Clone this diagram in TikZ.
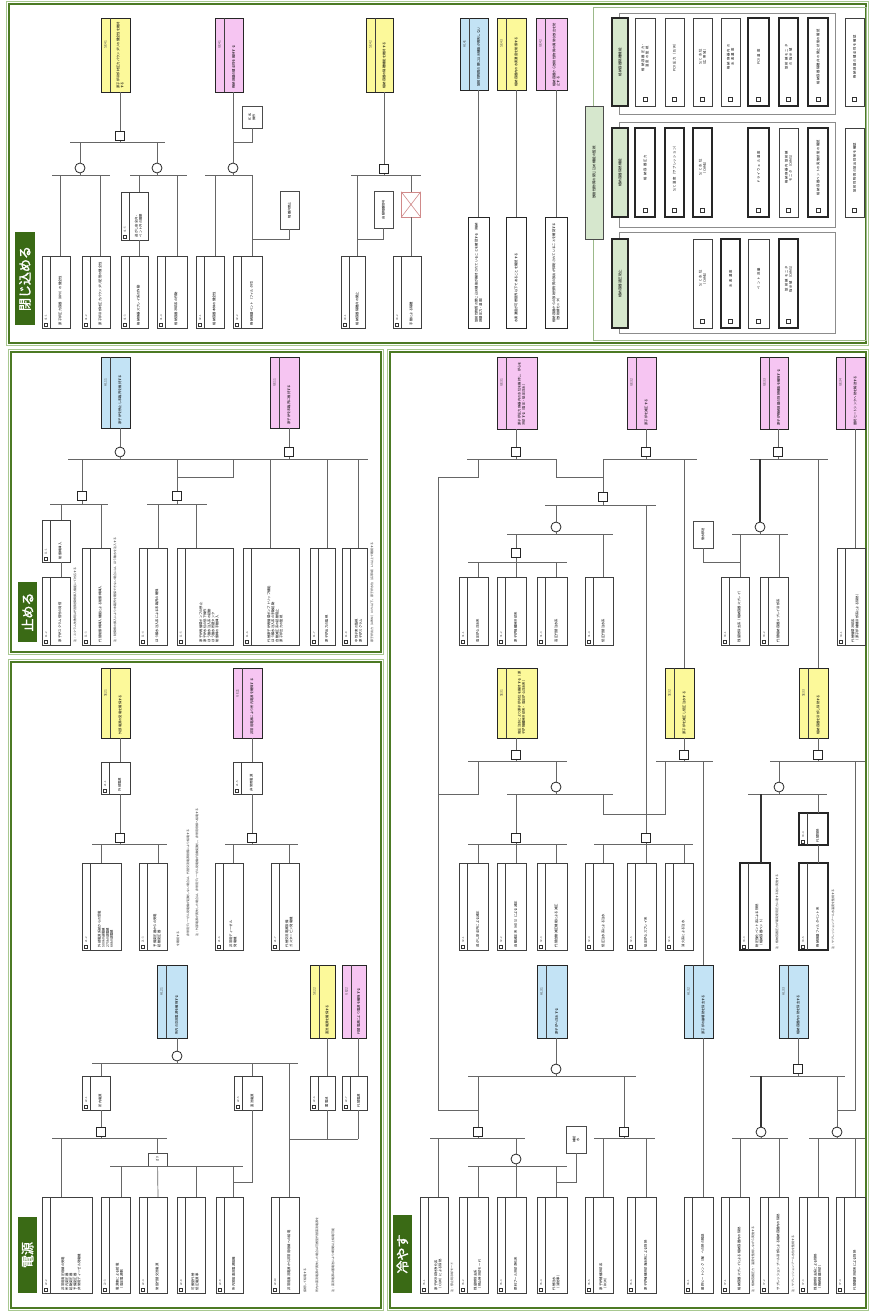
\documentclass[tikz,border=0pt]{standalone}
\usepackage{fontspec}
\setmainfont{Noto Sans CJK JP}
\newfontfamily\jpb[FakeBold=1.6]{Noto Sans CJK JP}
\XeTeXlinebreaklocale "ja"
\XeTeXlinebreakskip=0pt plus 0.3pt
\definecolor{yel}{HTML}{FCF99A}
\definecolor{pnk}{HTML}{F6C5F2}
\definecolor{blu}{HTML}{C3E3F5}
\definecolor{lgf}{HTML}{D6E7CD}
\definecolor{dkg}{HTML}{4C7A24}
\definecolor{labg}{HTML}{3A6A15}
\definecolor{lgl}{HTML}{A8C890}
\definecolor{ofrc}{HTML}{9CB98A}
\definecolor{xred}{HTML}{D08A8A}
\tikzset{
 lbox/.style={rectangle,draw=black!75,line width=0.55pt,inner sep=0pt,outer sep=0pt,fill=white},
 thk/.style={line width=1.1pt,draw=black!85},
 tbox/.style={rectangle,draw=black!85,line width=0.9pt,inner sep=0pt,outer sep=0pt},
 sline/.style={draw=black!75,line width=0.5pt},
 chk/.style={rectangle,draw=black!80,line width=0.4pt,minimum size=3.2pt,inner sep=0pt,fill=white},
 idt/.style={rotate=90,font=\fontsize{2.8}{3.2}\selectfont,inner sep=0pt,text=black!70},
 mtxt/.style={rotate=90,font=\fontsize{3.3}{4.1}\selectfont,inner sep=0pt,align=left},
 ln/.style={draw=black!60,line width=0.7pt},
 tln/.style={draw=black!80,line width=1.2pt},
 gor/.style={circle,draw=black!85,line width=0.8pt,minimum size=10pt,inner sep=0pt,fill=white},
 gand/.style={rectangle,draw=black!85,line width=0.8pt,minimum size=9.5pt,inner sep=0pt,fill=white},
 note/.style={rotate=90,anchor=west,font=\fontsize{3}{3.6}\selectfont,inner sep=0pt,text=black!80},
 sbox/.style={rectangle,rotate=90,draw=black!70,line width=0.5pt,fill=white,inner sep=0.5pt,align=center,font=\fontsize{3.2}{3.9}\selectfont},
 xbox/.style={rectangle,draw=xred,line width=0.6pt,fill=white,inner sep=0pt},
 mbox/.style={rectangle,rotate=90,draw=black!85,line width=1pt,fill=white,inner sep=0pt,align=left,font=\fontsize{3.3}{4.1}\selectfont},
 cbox/.style={rectangle,rotate=90,fill=lgf,draw=black!70,line width=0.8pt,inner sep=0pt,font=\fontsize{3.5}{4}\selectfont},
 hbox/.style={rectangle,rotate=90,fill=lgf,draw=black!85,line width=1.1pt,inner sep=0pt,font=\fontsize{3.5}{4}\selectfont},
 gfr/.style={draw=black!45,line width=0.9pt},
 ofr/.style={draw=ofrc,line width=0.9pt},
 lab/.style={rectangle,rotate=90,fill=labg,text=white,inner sep=0pt,font=\jpb\fontsize{13}{13}\selectfont},
}
\newcommand\topbox[9]{%
 \pgfmathsetmacro\rsW{#4-#2}%
 \pgfmathsetmacro\rsH{#5-#3}%
 \pgfmathsetmacro\rsT{#5-#3-7}%
 \node[tbox,fill=#7,minimum width=\rsW pt,minimum height=\rsH pt,anchor=north west] (#1) at (#2,#3) {};%
 \draw[sline] ({#2+9},#3) -- ({#2+9},#5);%
 \coordinate (#1-t) at (#6,#3);%
 \coordinate (#1-b) at (#6,#5);%
 \node[idt,font=\fontsize{3.3}{3.6}\selectfont] at ({#2+4.5},{#3+0.36*(#5-#3)}) {#8};%
 \node[mtxt,text width=\rsT pt] at ({(#2+9+#4)/2},{(#3+#5)/2}) {#9};%
}
\newcommand\leafbox[9]{%
 \pgfmathsetmacro\rsW{#4-#2}%
 \pgfmathsetmacro\rsH{#5-#3}%
 \pgfmathsetmacro\rsT{#5-#3-6}%
 \node[lbox,#7,minimum width=\rsW pt,minimum height=\rsH pt,anchor=north west] (#1) at (#2,#3) {};%
 \draw[sline] ({#2+8},#3) -- ({#2+8},#5);%
 \coordinate (#1-t) at (#6,#3);%
 \coordinate (#1-b) at (#6,#5);%
 \node[chk] at ({#2+4},{#5-3.5}) {};%
 \node[idt,anchor=west] at ({#2+4},{#5-7}) {#8};%
 \node[mtxt,text width=\rsT pt] at ({(#2+8+#4)/2},{(#3+#5)/2}) {#9};%
}
\newcommand\itembox[7]{%
 \pgfmathsetmacro\rsW{#4-#2}%
 \pgfmathsetmacro\rsH{#5-#3}%
 \pgfmathsetmacro\rsT{#5-#3-16}%
 \node[lbox,#6,minimum width=\rsW pt,minimum height=\rsH pt,anchor=north west] (#1) at (#2,#3) {};%
 \node[chk,minimum size=4pt] at ({(#2+#4)/2},{#5-7}) {};%
 \node[mtxt,align=center,text width=\rsT pt] at ({(#2+#4)/2},{(#3+#5)/2-5}) {#7};%
}
\newcommand\dropto[2]{\draw[ln] (#1-t |- 0,#2) -- (#1-t);}
\newcommand\gateup[2]{\draw[ln] (#1 |- 0,#2) -- (#1);}
\newcommand\gatedn[2]{\draw[ln] (#1) -- (#1 |- 0,#2);}
\begin{document}
\begin{tikzpicture}[x=1pt,y=-1pt]
\useasboundingbox (0,0) rectangle (870,1312);
\fill[white] (0,0) rectangle (870,1312);
% ---------- panels
\foreach \a/\b/\c/\d in {9/4/866/343, 11/352/381/652, 11/662/381/1308, 390/352/866/1308}{
 \draw[lgl,line width=0.8pt] (\a-2.4,\b-2.4) rectangle (\c+2.4,\d+2.4);
 \draw[dkg,line width=2.4pt] (\a,\b) rectangle (\c,\d);
}
\node[lab,minimum width=93pt,minimum height=20pt] (lab4) at (25,278.5) {閉じ込める};
\node[lab,minimum width=60pt,minimum height=19pt] (lab1) at (27.5,612) {止める};
\node[lab,minimum width=76pt,minimum height=19pt] (lab2) at (27.5,1255) {電源};
\node[lab,minimum width=78pt,minimum height=19pt] (lab3) at (402.5,1254) {冷やす};

% ================= 閉じ込める =================
\topbox{se41}{101}{18}{130}{92}{120}{yel}{SE41}{原子炉冷却材圧力バウンダリの健全性を維持する}
\node[gand] (a41) at (120,136) {};
\draw[ln] (se41-b) -- (a41);
\gatedn{a41}{142}
\draw[ln] (70,142) -- (165,142);
\node[gor] (o41a) at (80,168) {};
\node[gor] (o41b) at (157,168) {};
\gateup{o41a}{142} \gateup{o41b}{142}
\gatedn{o41a}{175} \gatedn{o41b}{175}
\draw[ln] (52,175) -- (110,175);
\draw[ln] (130,175) -- (187,175);
\leafbox{l411}{42}{256}{70}{328}{60}{}{41-1}{原子炉圧力容器（RPV）の健全性}
\leafbox{l412}{82}{256}{110}{328}{100}{}{41-2}{原子炉冷却材圧力バウンダリ配管の健全性}
\leafbox{l413}{121}{256}{148}{328}{139}{}{41-3}{格納容器スプレイ系の作動}
\leafbox{l414}{157}{256}{187}{328}{177}{}{41-4}{格納容器冷却系の作動}
\leafbox{i41}{121}{192}{148}{240}{139}{}{41-5}{逃がし安全弁・\\ベント弁の開閉}
\dropto{l411}{175} \dropto{l412}{175} \dropto{i41}{175} \dropto{l414}{175}
\draw[ln] (i41-b) -- (l413-t);

\topbox{ge41}{215}{18}{243}{92}{233}{pnk}{GE41}{格納容器の健全性を維持する}
\node[sbox,minimum width=22pt,minimum height=20pt] (s41) at (252,117) {FCVS\\操作};
\node[gor] (o41c) at (233,168) {};
\draw[ln] (ge41-b) -- (o41c);
\draw[ln] (s41) -- (s41 |- 0,142) -- (233,142);
\gatedn{o41c}{175}
\draw[ln] (205,175) -- (252,175);
\leafbox{l415}{196}{256}{224}{328}{215}{}{42-1}{格納容器本体の健全性}
\leafbox{l416}{233}{256}{262}{328}{252}{}{42-2}{格納容器ベント（フィルタ付）}
\dropto{l415}{175} \dropto{l416}{175}
\node[sbox,minimum width=38pt,minimum height=19pt] (h41) at (289.5,210) {隔離弁閉止};
\draw[ln] (h41) -- (h41 |- 0,239) -- (252,239);

\topbox{se42}{366}{18}{393}{92}{384}{yel}{SE42}{格納容器の隔離機能を維持する}
\node[gand] (a42) at (384,169) {};
\draw[ln] (se42-b) -- (a42);
\gatedn{a42}{175}
\draw[ln] (351,175) -- (421,175);
\leafbox{l421}{341}{256}{365}{328}{357}{}{43-1}{格納容器隔離弁の閉止}
\leafbox{l422}{393}{256}{421}{328}{411}{}{43-2}{手動による隔離}
\node[sbox,minimum width=37pt,minimum height=19pt] (s42) at (383.5,209.5) {自動隔離信号};
\draw[ln] (s42) -- (s42 |- 0,239) -- (357,239);
\dropto{l421}{175}
\node[xbox,minimum width=19pt,minimum height=25pt] (x42) at (411,204.5) {};
\draw[xred,line width=0.6pt] (x42.north west) -- (x42.south east) (x42.north east) -- (x42.south west);
\draw[ln] (411,175) -- (x42.north);
\draw[ln] (x42.south) -- (l422-t);

\topbox{al41}{460}{18}{488}{90}{478}{blu}{AL41}{放射性物質の閉じ込め機能が喪失しない}
\topbox{se43}{497}{18}{526}{90}{516}{yel}{SE43}{格納容器内の水素濃度を制御する}
\topbox{ge42}{536}{18}{567}{90}{556}{pnk}{GE42}{格納容器から放射性物質の異常な放出を防止する}
\node[mbox,minimum width=111pt,minimum height=21pt,text width=100pt] (m41) at (478.5,272.5) {放射性物質の閉じ込め機能が維持されていることを確認する（格納容器圧力・温度）};
\node[mbox,minimum width=111pt,minimum height=20pt,text width=100pt] (m42) at (516,272.5) {水素濃度が可燃限界以下であることを確認する};
\node[mbox,minimum width=111pt,minimum height=22pt,text width=100pt] (m43) at (556,272.5) {格納容器からの放射性物質の放出が抑制されていることを確認する（放射線モニタ）};
\draw[ln] (al41-b) -- (al41-b |- 0,217);
\draw[ln] (se43-b) -- (se43-b |- 0,217);
\draw[ln] (ge42-b) -- (ge42-b |- 0,217);

\draw[ofr] (593,7) rectangle (866,340);
\node[cbox,minimum width=133pt,minimum height=18pt] (cb) at (594,172.5) {放射性物質の閉じ込め機能の監視};
\draw[gfr] (619,13) rectangle (835,114);
\draw[gfr] (619,122) rectangle (835,227);
\draw[gfr] (619,232) rectangle (835,333);
\node[hbox,minimum width=88pt,minimum height=16pt] (hA) at (620,62) {格納容器隔離機能};
\node[hbox,minimum width=89pt,minimum height=16pt] (hB) at (620,172.5) {格納容器除熱機能};
\node[hbox,minimum width=89pt,minimum height=16pt] (hC) at (620,283.5) {格納容器過圧防止};
\itembox{ia1}{635}{18}{655}{106}{}{格納容器圧力・\\温度の監視}
\itembox{ia2}{665}{18}{684}{106}{}{PCV圧力（D/W）}
\itembox{ia3}{693}{18}{712}{106}{}{S/C水位\\（広帯域）}
\itembox{ia4}{721}{18}{740}{106}{}{格納容器内の\\水素濃度}
\itembox{ia5}{748}{18}{769}{106}{thk}{PCV温度}
\itembox{ia6}{779}{18}{798}{106}{thk}{放射線モニタ\\の指示値}
\itembox{ia7}{808}{18}{828}{106}{thk}{格納容器隔離弁の閉止状態の確認}
\itembox{ia8}{845}{18}{864}{106}{}{格納容器の健全性を確認}
\itembox{ib1}{635}{128}{655}{217}{thk}{格納容器圧力}
\itembox{ib2}{665}{128}{684}{217}{thk}{S/C温度（サプレッション）}
\itembox{ib3}{693}{128}{712}{217}{thk}{S/C水位\\（CAMS）}
\itembox{ib5}{748}{128}{769}{217}{thk}{ドライウェル温度}
\itembox{ib6}{779}{128}{798}{217}{}{格納容器内放射線\\モニタ（CAMS）}
\itembox{ib7}{808}{128}{828}{217}{thk}{格納容器ベントの実施状態の確認}
\itembox{ib8}{845}{128}{864}{217}{}{放射性物質の放出抑制を確認}
\itembox{ic3}{693}{239}{712}{328}{}{S/C水位\\（CAMS）}
\itembox{ic4}{721}{239}{740}{328}{thk}{水素濃度}
\itembox{ic5}{748}{239}{769}{328}{}{ベント流量}
\itembox{ic6}{779}{239}{798}{328}{thk}{放射線モニタ\\指示値（CAMS）}

% ================= 止める =================
\topbox{al11}{101}{357}{130}{428}{120}{blu}{AL11}{原子炉を停止し未臨界を維持する}
\node[gor] (o11) at (120,452) {};
\draw[ln] (al11-b) -- (o11);
\gatedn{o11}{459}
\topbox{ge11}{270}{357}{299}{428}{289}{pnk}{GE11}{原子炉を未臨界に維持する}
\node[gand] (a11) at (289,452) {};
\draw[ln] (ge11-b) -- (a11);
\gatedn{a11}{459}
\draw[ln] (68,459) -- (368,459);
\node[gand] (a11a) at (82,496) {};
\node[gand] (a11b) at (177,496) {};
\gateup{a11a}{459} \gateup{a11b}{459}
\draw[ln] (233,459) -- (233,477) -- (177,477);
\gatedn{a11a}{504} \draw[ln] (50,504) -- (108,504);
\gatedn{a11b}{504} \draw[ln] (147,504) -- (207,504);
\leafbox{i11}{42}{520}{70}{562}{61}{}{11-1}{制御棒挿入}
\leafbox{l111}{42}{577}{70}{645}{61}{}{11-2}{原子炉スクラム信号の発信}
\dropto{i11}{504}
\draw[ln] (i11-b) -- (l111-t);
\leafbox{l112}{82}{548}{110}{645}{101}{}{11-3}{代替制御棒挿入機能による制御棒挿入}
\dropto{l112}{504}
\leafbox{l113}{139}{548}{167}{645}{158}{}{11-4}{ほう酸水注入系による未臨界の確保}
\leafbox{l114}{177}{548}{233}{645}{196}{}{11-5}{原子炉再循環ポンプの停止\\原子炉水位の低下操作\\ほう酸水注入系の起動\\ほう酸水貯蔵タンク\\制御棒の手動挿入}
\dropto{l113}{504} \dropto{l114}{504}
\leafbox{l115}{243}{548}{299}{645}{270}{}{11-6}{代替原子炉再循環ポンプトリップ機能\\ほう酸水注入系の手動起動\\自動減圧系の起動阻止\\原子炉出力の監視}
\leafbox{l116}{310}{548}{335}{645}{327}{}{11-7}{原子炉出力の監視}
\leafbox{l117}{342}{548}{367}{645}{358}{}{11-8}{中性子束の監視\\原子炉スクラム}
\dropto{l115}{459} \dropto{l116}{459} \dropto{l117}{459}
\node[note] (n11a) at (75,643) {注：スクラム失敗時は代替制御棒挿入機能にて対応する};
\node[note] (n11b) at (115,643) {注：制御棒の挿入により未臨界を確保できない場合には、ほう酸水を注入する};
\node[note] (n11c) at (372,643) {原子炉出力（APRM）0.3\%以下、原子炉水位（広帯域）L-3以上で確認する};

% ================= 電源 =================
\topbox{se21}{101}{668}{130}{738}{120}{yel}{SE21}{外部電源の受電を確保する}
\leafbox{e21}{101}{762}{130}{794}{120}{}{21-1}{外部電源}
\draw[ln] (se21-b) -- (e21-t);
\node[gand] (a21) at (120,838) {};
\draw[ln] (e21-b) -- (a21);
\gatedn{a21}{844}
\draw[ln] (92,844) -- (167,844);
\leafbox{l211}{82}{863}{121}{950}{101}{}{21-2}{外部電源系統からの受電\\500kV送電線\\275kV送電線\\66kV送電線}
\leafbox{l212}{139}{863}{167}{950}{158}{}{21-3}{予備変圧器からの受電\\起動変圧器}
\dropto{l211}{844} \dropto{l212}{844}
\topbox{ge21}{233}{668}{262}{738}{252}{pnk}{GE21}{非常用電源により所内電源を確保する}
\leafbox{e22}{233}{762}{262}{794}{252}{}{21-5}{非常用電源}
\draw[ln] (ge21-b) -- (e22-t);
\node[gand] (a22) at (252,838) {};
\draw[ln] (e22-b) -- (a22);
\gatedn{a22}{844}
\draw[ln] (225,844) -- (298,844);
\leafbox{l213}{215}{863}{243}{950}{233}{}{21-6}{非常用ディーゼル\\発電機}
\leafbox{l214}{271}{863}{299}{950}{289}{}{21-7}{代替交流電源設備\\ガスタービン発電機}
\dropto{l213}{844} \dropto{l214}{844}
\node[note] (n21a) at (197,937) {注：外部電源が喪失した場合は、非常用ディーゼル発電機が自動起動し、非常用母線へ給電する};
\node[note] (n21b) at (188,937) {非常用ディーゼル発電機が起動しない場合は、代替交流電源設備により給電する};
\node[note] (n21c) at (178,947) {を確認する};

\topbox{al21}{157}{965}{187}{1038}{177}{blu}{AL21}{所内の交流電源を確保する}
\node[gor] (o21) at (177,1056) {};
\draw[ln] (al21-b) -- (o21);
\gatedn{o21}{1063}
\draw[ln] (92,1063) -- (298,1063);
\leafbox{e23}{82}{1076}{110}{1110}{101}{}{22-1}{所内電源}
\dropto{e23}{1063}
\node[gand] (a23) at (101,1132) {};
\draw[ln] (e23-b) -- (a23);
\gatedn{a23}{1138}
\draw[ln] (52,1138) -- (167,1138);
\leafbox{e24}{234}{1076}{262}{1110}{252}{}{22-5}{直流電源}
\dropto{e24}{1063}
\topbox{se22}{310}{965}{335}{1038}{327}{yel}{SE22}{直流電源を確保する}
\topbox{ge22}{342}{965}{366}{1038}{358}{pnk}{GE22}{代替電源により電源を確保する}
\leafbox{e25}{310}{1076}{335}{1110}{327}{}{22-6}{蓄電池}
\leafbox{e26}{342}{1076}{367}{1110}{358}{}{22-7}{代替電源}
\draw[ln] (se22-b) -- (e25-t);
\draw[ln] (ge22-b) -- (e26-t);
\draw[ln] (e25-b) -- (e25-b |- 0,1139);
\draw[ln] (e26-b) -- (e26-b |- 0,1139);
\draw[ln] (289,1139) -- (358,1139);
\node[sbox,minimum width=13pt,minimum height=19pt] (k21) at (157.5,1159.5) {2/3};
\draw[ln] (157.5,1138) -- (k21);
\draw[ln] (110,1166) -- (243,1166);
\leafbox{l215}{42}{1197}{92}{1293}{61}{}{22-2}{非常用高圧母線の受電\\所内変圧器\\起動変圧器\\予備変圧器\\非常用ディーゼル発電機}
\leafbox{l216}{101}{1197}{130}{1293}{121}{}{22-3}{電源車による給電\\（高圧電源車）}
\leafbox{l217}{139}{1197}{167}{1293}{158}{}{22-4}{常設代替交流電源}
\leafbox{l218}{177}{1197}{205}{1293}{196}{}{22-8}{可搬型代替\\低圧電源車}
\leafbox{l219}{216}{1197}{243}{1293}{233}{}{22-9}{所内常設直流電源設備}
\leafbox{l21x}{271}{1197}{299}{1293}{289}{}{22-10}{非常用直流電源から非常用母線への給電}
\dropto{l215}{1138}
\draw[ln] (k21) -- (l217-t);
\dropto{l216}{1166} \dropto{l218}{1166} \dropto{l219}{1166}
\draw[ln] (e24-b) -- (e24-b |- 0,1182) -- (233,1182);
\dropto{l21x}{1063}
\node[note] (n22a) at (333,1293) {注：直流電源は蓄電池により8時間以上給電可能};
\node[note] (n22b) at (317,1293) {所内の直流電源が喪失した場合は可搬型代替直流電源を};
\node[note] (n22c) at (305,1293) {接続して給電する};

% ================= 冷やす =================
\topbox{ge31}{497}{357}{537}{429}{516}{pnk}{GE31}{原子炉圧力容器内の水位を維持し、炉心を冷却する（高圧・低圧注水）}
\topbox{ge32}{627}{357}{656}{429}{646}{pnk}{GE32}{原子炉を減圧する}
\topbox{ge33}{760}{357}{788}{429}{778}{pnk}{GE33}{原子炉格納容器の除熱機能を確保する}
\topbox{ge34}{836}{357}{865}{429}{855}{pnk}{GE34}{最終ヒートシンクへ熱を輸送する}
\node[gand] (g31) at (516,452) {};
\node[gand] (g32) at (646,452) {};
\node[gand] (g33) at (778,452) {};
\draw[ln] (ge31-b) -- (g31); \draw[ln] (ge32-b) -- (g32); \draw[ln] (ge33-b) -- (g33);
\gatedn{g31}{459} \gatedn{g32}{459} \gatedn{g33}{459}
\draw[ln] (467,459) -- (557,459);
\draw[ln] (603,459) -- (697,459);
\draw[ln] (750,459) -- (828,459);
\draw[ln] (478,459) -- (478,477) -- (438,477) -- (438,1110) -- (478,1110);
\draw[ln] (556,459) -- (556,477) -- (603,477);
\node[gand] (g3a) at (603,497) {};
\gateup{g3a}{459} \gatedn{g3a}{505}
\draw[ln] (545,505) -- (656,505);
\node[gor] (g3b) at (556,527) {};
\gateup{g3b}{505} \gatedn{g3b}{534}
\draw[ln] (507,534) -- (613,534);
\node[gand] (g3d) at (516,553) {};
\gateup{g3d}{534} \gatedn{g3d}{562}
\draw[ln] (468,562) -- (567,562);
\leafbox{l3a1}{459}{577}{488}{645}{478}{}{31-1}{高圧炉心注水系}
\leafbox{l3a2}{497}{577}{526}{645}{516}{}{31-2}{原子炉隔離時冷却系}
\leafbox{l3a3}{537}{577}{567}{645}{556}{}{31-3}{高圧代替注水系}
\leafbox{l3a4}{585}{577}{613}{645}{603}{}{31-4}{低圧代替注水系}
\dropto{l3a1}{562} \dropto{l3a2}{562} \dropto{l3a3}{562} \dropto{l3a4}{534}
\node[gor] (g33o) at (760,527) {};
\draw[tln] (760,459) -- (g33o);
\gatedn{g33o}{534}
\draw[ln] (732,534) -- (788,534);
\node[sbox,minimum width=27pt,minimum height=20pt] (s3b) at (703,534.5) {復水移送};
\draw[ln] (s3b) -- (s3b |- 0,562) -- (740,562);
\leafbox{l3b1}{721}{577}{749}{645}{740}{}{33-1}{残留熱除去系（格納容器スプレイ）}
\leafbox{l3b2}{760}{577}{788}{645}{779}{}{33-2}{代替格納容器スプレイ冷却系}
\dropto{l3b1}{534} \dropto{l3b2}{534}
\leafbox{l3b3}{837}{548}{865}{645}{855}{}{34-1}{代替循環冷却系\\（原子炉補機冷却系による除熱）}
\draw[ln] (ge34-b) -- (l3b3-t);

\topbox{se31}{497}{668}{537}{738}{516}{yel}{SE31}{高圧注水により原子炉水位を維持する（原子炉隔離時冷却系・高圧炉心注水系）}
\topbox{se32}{665}{668}{694}{738}{684}{yel}{SE32}{原子炉を減圧し低圧注水する}
\topbox{se33}{799}{668}{828}{738}{818}{yel}{SE33}{格納容器を冷却し除熱する}
\draw[ln] (684,459) -- (se32-t);
\draw[ln] (818,459) -- (se33-t);
\node[gand] (s31) at (516,755) {};
\node[gand] (s32) at (684,755) {};
\node[gand] (s33) at (818,755) {};
\draw[ln] (se31-b) -- (s31); \draw[ln] (se32-b) -- (s32); \draw[ln] (se33-b) -- (s33);
\gatedn{s31}{761} \gatedn{s32}{761} \gatedn{s33}{761}
\draw[ln] (468,761) -- (567,761);
\draw[ln] (656,761) -- (713,761);
\draw[ln] (770,761) -- (865,761);
\draw[ln] (478,761) -- (478,794) -- (438,794);
\node[gor] (s31o) at (556,787) {};
\gateup{s31o}{761} \gatedn{s31o}{794}
\draw[ln] (507,794) -- (613,794);
\draw[ln] (603,794) -- (603,814) -- (665,814) -- (665,761);
\node[gand] (s31a) at (516,838) {};
\gateup{s31a}{794} \gatedn{s31a}{844}
\node[gand] (g3c) at (646,838) {};
\draw[ln] (646,505) -- (g3c);
\gatedn{g3c}{844}
\draw[ln] (468,844) -- (567,844);
\draw[ln] (594,844) -- (693,844);
\leafbox{l3c1}{459}{863}{488}{950}{478}{}{32-1}{逃がし安全弁による減圧}
\leafbox{l3c2}{497}{863}{526}{950}{516}{}{32-2}{自動減圧系（ADS）による減圧}
\leafbox{l3c3}{537}{863}{567}{950}{556}{}{32-3}{代替自動減圧機能による減圧}
\leafbox{l3c4}{585}{863}{613}{950}{603}{}{32-4}{低圧注水系による注水}
\leafbox{l3c5}{627}{863}{656}{950}{646}{}{32-5}{低圧炉心スプレイ系}
\leafbox{l3c6}{665}{863}{693}{950}{684}{}{32-6}{消火系による注水}
\dropto{l3c1}{844} \dropto{l3c2}{844} \dropto{l3c3}{844}
\dropto{l3c4}{844} \dropto{l3c5}{844} \dropto{l3c6}{844}
\draw[ln] (703,761) -- (703,965);
\node[gor] (s33o) at (779,787) {};
\gateup{s33o}{761} \gatedn{s33o}{794}
\draw[ln] (748,794) -- (827,794);
\draw[ln] (855,761) -- (855,1110) -- (837,1110);
\leafbox{l3d1}{740}{863}{770}{950}{761}{thk}{33-3}{耐圧強化ベント系による除熱\\（格納容器ベント）}
\leafbox{s3d}{799}{813}{828}{845}{818}{thk}{33-4}{代替除熱}
\leafbox{l3d2}{799}{863}{828}{950}{818}{thk}{33-5}{格納容器フィルタベント系}
\draw[tln] (l3d1-t |- 0,794) -- (l3d1-t);
\dropto{s3d}{794}
\draw[ln] (s3d-b) -- (l3d2-t);
\node[note] (n31a) at (777,950) {注：格納容器圧力が最高使用圧力に達する前に実施する};
\node[note] (n31b) at (833,950) {注：サプレッションプール水温度を監視する};

\topbox{al31}{537}{965}{567}{1038}{556}{blu}{AL31}{原子炉へ注水する}
\topbox{al32}{684}{965}{713}{1038}{703}{blu}{AL32}{原子炉の崩壊熱を除去する}
\topbox{al33}{779}{965}{808}{1038}{798}{blu}{AL33}{格納容器内の熱を除去する}
\node[gor] (a31) at (556,1069) {};
\draw[ln] (al31-b) -- (a31);
\gatedn{a31}{1076}
\draw[ln] (468,1076) -- (636,1076);
\node[gand] (a31a) at (478,1132) {};
\gateup{a31a}{1076} \gatedn{a31a}{1138}
\draw[ln] (430,1138) -- (525,1138);
\node[gand] (a31b) at (624,1132) {};
\gateup{a31b}{1076} \gatedn{a31b}{1138}
\draw[ln] (594,1138) -- (655,1138);
\node[gor] (a31o) at (516,1159) {};
\gateup{a31o}{1138} \gatedn{a31o}{1166}
\draw[ln] (468,1166) -- (567,1166);
\node[sbox,minimum width=27pt,minimum height=20pt] (s3e) at (576,1139.5) {補給\\水};
\draw[ln] (s3e) -- (s3e |- 0,1182) -- (556,1182);
\leafbox{l3e1}{420}{1197}{448}{1293}{438}{}{35-1}{原子炉冷却材浄化系\\（CUW）による除熱}
\leafbox{l3e2}{459}{1197}{488}{1293}{478}{}{35-2}{残留熱除去系\\（停止時冷却モード）}
\leafbox{l3e3}{497}{1197}{526}{1293}{516}{}{35-3}{燃料プール冷却浄化系}
\leafbox{l3e4}{537}{1197}{567}{1293}{556}{}{35-4}{代替注水\\（消防車）}
\leafbox{l3e5}{585}{1197}{613}{1293}{603}{}{35-5}{原子炉補機冷却系\\（RCW）}
\leafbox{l3e6}{627}{1197}{656}{1293}{646}{}{35-6}{原子炉補機冷却海水系による除熱}
\leafbox{l3e7}{684}{1197}{713}{1293}{703}{}{36-1}{最終ヒートシンク（海）への熱の輸送}
\leafbox{l3e8}{721}{1197}{749}{1293}{740}{}{37-1}{格納容器スプレイによる格納容器内の除熱}
\leafbox{l3e9}{760}{1197}{788}{1293}{779}{}{37-2}{サプレッションプール冷却による格納容器内の除熱}
\leafbox{l3e10}{799}{1197}{828}{1293}{818}{}{37-3}{残留熱除去系による除熱\\（格納容器冷却）}
\leafbox{l3e11}{836}{1197}{865}{1293}{855}{}{37-4}{代替循環冷却系による除熱}
\dropto{l3e1}{1138} \dropto{l3e2}{1166} \dropto{l3e3}{1166} \dropto{l3e4}{1166}
\dropto{l3e5}{1138} \dropto{l3e6}{1138}
\draw[ln] (al32-b) -- (l3e7-t);
\node[gand] (a33) at (798,1069) {};
\draw[ln] (al33-b) -- (a33);
\gatedn{a33}{1076}
\draw[ln] (750,1076) -- (845,1076);
\node[gor] (a33a) at (761,1132) {};
\node[gor] (a33b) at (837,1132) {};
\draw[tln] (761,1076) -- (a33a);
\gateup{a33b}{1076}
\gatedn{a33a}{1138} \gatedn{a33b}{1138}
\draw[ln] (732,1138) -- (788,1138);
\draw[ln] (809,1138) -- (865,1138);
\dropto{l3e8}{1138} \dropto{l3e9}{1138} \dropto{l3e10}{1138} \dropto{l3e11}{1138}
\node[note] (n32a) at (753,1293) {注：格納容器圧力・温度を監視しながら実施する};
\node[note] (n32b) at (793,1293) {注：サプレッションプール水位を監視する};
\node[note] (n32c) at (452,1293) {注：停止時冷却モード};
\end{tikzpicture}
\end{document}
